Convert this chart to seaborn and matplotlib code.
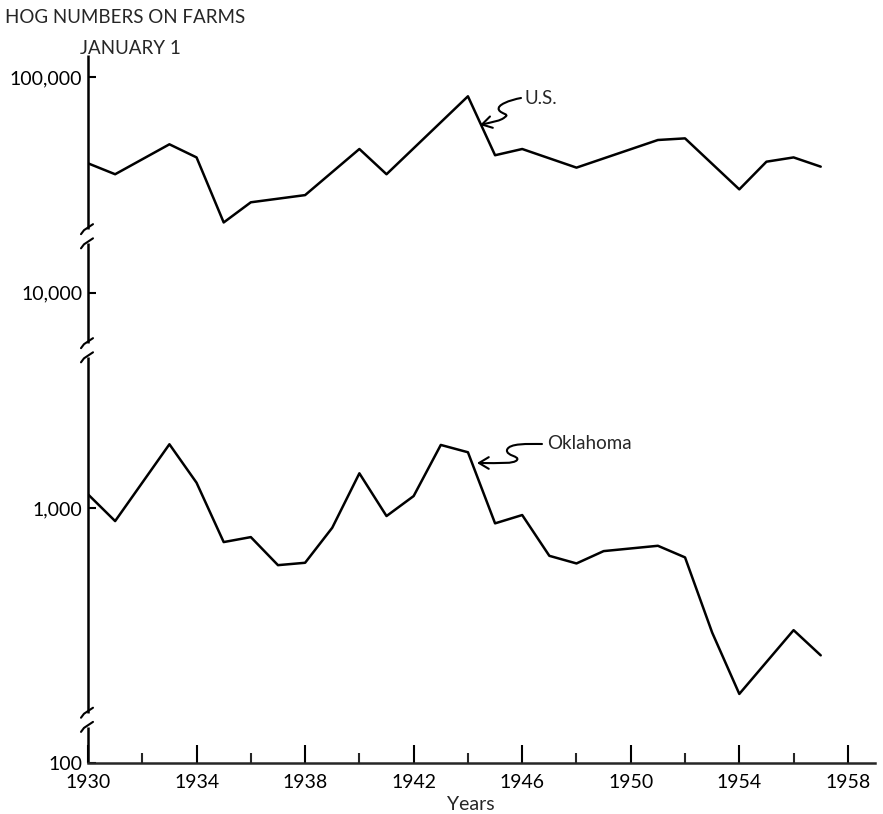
import pandas as pd
import matplotlib
matplotlib.use("Agg")
import matplotlib.pyplot as plt
import seaborn as sns
from matplotlib.path import Path
from matplotlib.patches import FancyArrowPatch
from matplotlib.lines import Line2D
from matplotlib.ticker import NullLocator, FixedLocator

W, H = 883, 814

# hog numbers on farms, January 1 (thousands of head)
us_years = [1930, 1931, 1933, 1934, 1935, 1936, 1938, 1940, 1941, 1944,
            1945, 1946, 1948, 1951, 1952, 1954, 1955, 1956, 1957]
us_hogs = [39900, 35500, 48900, 42500, 21200, 26300, 28400, 46500, 35500, 81700,
           43500, 46500, 38100, 51200, 52100, 30200, 40600, 42500, 38500]

ok_years = [1930, 1931, 1933, 1934, 1935, 1936, 1937, 1938, 1939, 1940,
            1941, 1942, 1943, 1944, 1945, 1946, 1947, 1948, 1949, 1951,
            1952, 1953, 1954, 1956, 1957]
ok_hogs = [1158, 870, 1978, 1311, 695, 733, 543, 557, 810, 1450,
           918, 1137, 1964, 1816, 849, 928, 600, 553, 631, 668,
           590, 264, 137, 271, 207]

y_ticks = [10 ** 1.816, 1000, 10000, 100000]
y_labels = ["100", "1,000", "10,000", "100,000"]
x_major = list(range(1930, 1959, 4))
x_minor = list(range(1932, 1959, 4))


def fx(px):
    return px / W


def fy(py):
    return 1 - py / H


sns.set_style("ticks")
plt.rcParams['font.family'] = ['Lato', 'DejaVu Sans']

fig = plt.figure(figsize=(W / 100, H / 100), dpi=100)
ax = fig.add_axes([fx(88), fy(763), (875 - 88) / W, (763 - 55) / H])
ax.set_yscale("log")

df_us = pd.DataFrame({"year": us_years, "hogs": us_hogs})
df_ok = pd.DataFrame({"year": ok_years, "hogs": ok_hogs})
sns.lineplot(data=df_us, x="year", y="hogs", ax=ax, color="black", lw=1.8)
sns.lineplot(data=df_ok, x="year", y="hogs", ax=ax, color="black", lw=1.8)

ax.set_xlim(1930, 1959)
ax.set_ylim(10 ** 1.816, 10 ** 5.104)

ax.set_yticks(y_ticks, y_labels)
ax.yaxis.set_minor_locator(NullLocator())
ax.set_xticks(x_major, [str(y) for y in x_major])
ax.xaxis.set_minor_locator(FixedLocator(x_minor))

ax.tick_params(axis="y", direction="in", length=6, width=1.5, pad=4,
               labelsize=14, colors="black")
ax.tick_params(axis="x", which="major", direction="in", length=13, width=1.5,
               pad=8, labelsize=14, colors="black")
ax.tick_params(axis="x", which="minor", direction="in", length=7, width=1.5)

ax.set_ylabel("")
ax.set_xlabel("Years", fontsize=14, va="top")
ax.xaxis.set_label_coords((471 - 88) / 787, -0.047)

for side in ["top", "right", "left"]:
    ax.spines[side].set_visible(False)
ax.spines["bottom"].set_linewidth(1.8)

# broken y axis: segments with slanted marks at each gap
segments = [(0.0, 0.051), (0.071, 0.573), (0.593, 0.734), (0.754, 1.0)]
for lo, hi in segments:
    ax.add_line(Line2D([0, 0], [lo, hi], transform=ax.transAxes,
                       color="black", lw=1.8, clip_on=False,
                       solid_capstyle="butt"))
for lo, hi in segments:
    for edge in (lo, hi):
        if edge in (0.0, 1.0):
            continue
        py = 763 - edge * 708
        fig.add_artist(Line2D([fx(81), fx(84), fx(93)],
                              [fy(py + 5), fy(py + 1), fy(py - 5)],
                              transform=fig.transFigure, color="black",
                              lw=1.5))

# titles
fig.text(fx(5), fy(9), "HOG NUMBERS ON FARMS", fontsize=13.5, ha="left", va="top")
fig.text(fx(80), fy(40), "JANUARY 1", fontsize=13.5, ha="left", va="top")


def squiggle(points, label, lx, ly):
    codes = [Path.MOVETO] + [Path.CURVE4] * (len(points) - 1)
    verts = [(fx(x), fy(y)) for x, y in points]
    arrow = FancyArrowPatch(path=Path(verts, codes),
                            arrowstyle="->,head_length=0.5,head_width=0.3",
                            mutation_scale=14, lw=1.5, color="black",
                            transform=fig.transFigure)
    fig.add_artist(arrow)
    fig.text(fx(lx), fy(ly), label, fontsize=13.5, ha="left", va="center")


squiggle([(521, 98), (510, 100), (496, 105), (499, 110),
          (501, 114), (510, 114), (505, 117),
          (501, 121), (492, 122), (480, 125)], "U.S.", 525, 98)
squiggle([(542, 444), (528, 444), (509, 443), (507, 450),
          (506, 456), (520, 456), (517, 460),
          (514, 464), (500, 463), (477, 463)], "Oklahoma", 547, 444)

fig.savefig("out.png", dpi=100)
